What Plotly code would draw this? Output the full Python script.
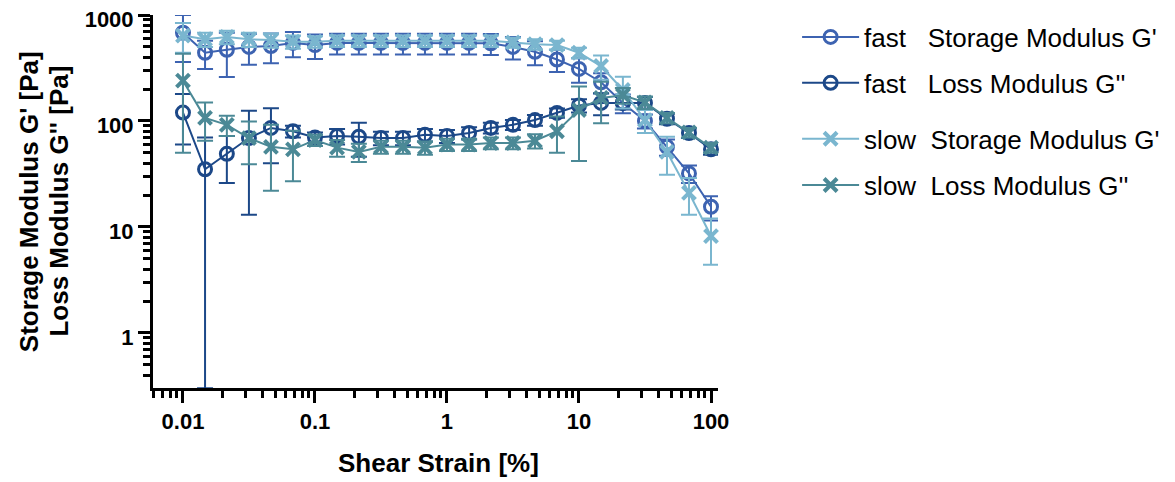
import plotly.graph_objects as go

# ---- data ----
strain = [0.01, 0.0147, 0.0215, 0.0316, 0.0464, 0.0681, 0.1, 0.147, 0.215, 0.316,
          0.464, 0.681, 1, 1.47, 2.15, 3.16, 4.64, 6.81, 10, 14.7, 21.5, 31.6,
          46.4, 68.1, 100]

fast_storage = [680, 440, 470, 500, 510, 545, 520, 545, 545, 545, 545, 545, 545,
                545, 540, 500, 450, 380, 310, 232, 148, 100, 57, 32, 15.5]
fast_storage_err = [320, 130, 210, 160, 160, 145, 135, 120, 120, 120, 120, 120, 120,
                    120, 120, 120, 115, 90, 80, 50, 30, 15, 10, 6, 4]

fast_loss = [120, 35, 49, 69, 86, 80, 70, 72, 71, 69, 69, 74, 72, 77, 86, 92, 102,
             119, 140, 148, 148, 148, 105, 77, 54]
fast_loss_err = [60, 34.7, 23, 56, 46, 10, 8, 12, 25, 10, 10, 10, 10, 10, 10, 10, 12,
                 12, 20, 35, 20, 20, 12, 8, 6]

slow_storage = [640, 590, 620, 590, 580, 560, 560, 570, 570, 570, 570, 570, 570,
                570, 570, 550, 530, 520, 440, 330, 196, 102, 51, 21, 8.2]
slow_storage_err = [200, 90, 90, 90, 90, 80, 70, 70, 70, 70, 70, 70, 70, 70, 70,
                    60, 60, 50, 50, 85, 65, 25, 20, 8, 3.8]

slow_loss = [240, 107, 92, 69, 57, 54, 66, 56, 51, 57, 57, 56, 60, 60, 62, 62, 65,
             80, 127, 165, 175, 150, 107, 78, 56]
slow_loss_err = [190, 42, 20, 30, 35, 27, 8, 10, 10, 8, 8, 8, 8, 8, 8, 8, 10, 30, 85,
                 70, 30, 20, 12, 8, 6]

x_tickvals = [0.01, 0.1, 1, 10, 100]
x_ticktext = ["0.01", "0.1", "1", "10", "100"]
y_tickvals = [1, 10, 100, 1000]
y_ticktext = ["1", "10", "100", "1000"]

names = ["fast\u00a0\u00a0\u00a0Storage Modulus G'",
         "fast\u00a0\u00a0\u00a0Loss Modulus G''",
         "slow\u00a0\u00a0Storage Modulus G'",
         "slow\u00a0\u00a0Loss Modulus G''"]

# ---- styling ----
C_FS = "#3d63b1"
C_FL = "#1c4888"
C_SS = "#7ab6cf"
C_SL = "#4b8996"
FONT = "Liberation Sans, Arial, sans-serif"

fig = go.Figure()


def add(name, y, err, color, symbol, legend, lw):
    fig.add_trace(go.Scatter(
        x=strain, y=y, mode="lines+markers", name=name, legend=legend,
        line=dict(color=color, width=2),
        marker=dict(symbol=symbol, size=13, color=color,
                    line=dict(color=color, width=lw)),
        error_y=dict(type="data", array=err, visible=True, color=color,
                     thickness=2, width=8),
        cliponaxis=False,
    ))


add(names[0], fast_storage, fast_storage_err, C_FS, "circle-open", "legend", 3)
add(names[1], fast_loss, fast_loss_err, C_FL, "circle-open", "legend2", 3)
add(names[2], slow_storage, slow_storage_err, C_SS, "x-thin", "legend3", 4)
add(names[3], slow_loss, slow_loss_err, C_SL, "x-thin", "legend4", 4)

minor_x = [m * 10 ** e for e in range(-3, 3) for m in range(2, 10)]
minor_y = [m * 10 ** e for e in range(-1, 3) for m in range(2, 10)]

axis_common = dict(
    type="log", showline=True, linecolor="black", linewidth=3,
    ticks="outside", ticklen=12, tickwidth=3, tickcolor="black",
    showgrid=False, zeroline=False, mirror=False, automargin=False,
    ticklabeloverflow="allow",
    tickfont=dict(family=FONT, size=22, color="black", weight="bold"),
)

fig.update_xaxes(**axis_common, range=[-2.227, 2.053], tickmode="array",
                 tickvals=x_tickvals, ticktext=x_ticktext,
                 minor=dict(tickmode="array", tickvals=minor_x, ticks="outside",
                            ticklen=7, tickwidth=2.5, tickcolor="black",
                            showgrid=False))
fig.update_yaxes(**axis_common, range=[-0.52, 3.0], tickmode="array",
                 tickvals=y_tickvals, ticktext=y_ticktext, ticklabelshift=4,
                 minor=dict(tickmode="array", tickvals=minor_y, ticks="outside",
                            ticklen=7, tickwidth=2.5, tickcolor="black",
                            showgrid=False))

leg_y = [0.941, 0.818, 0.668, 0.544]
leg_common = dict(x=1.140, xanchor="left", yanchor="middle", bgcolor="rgba(0,0,0,0)",
                  borderwidth=0, itemwidth=57,
                  font=dict(family=FONT, size=26, color="black"))

# the page body has an 8px margin, so the figure is 8px smaller and offsets reduced
fig.update_layout(
    width=1167, height=474,
    margin=dict(l=145, r=457, t=7, b=94, autoexpand=False),
    paper_bgcolor="white", plot_bgcolor="white",
    showlegend=True,
    legend=dict(**leg_common, y=leg_y[0]),
    legend2=dict(**leg_common, y=leg_y[1]),
    legend3=dict(**leg_common, y=leg_y[2]),
    legend4=dict(**leg_common, y=leg_y[3]),
    annotations=[
        dict(text="Storage Modulus G' [Pa]", x=-0.220, y=0.5, xref="paper", yref="paper",
             textangle=-90, showarrow=False, xanchor="center", yanchor="middle",
             font=dict(family=FONT, size=26, color="black", weight="bold")),
        dict(text="Loss Modulus G'' [Pa]", x=-0.168, y=0.5, xref="paper", yref="paper",
             textangle=-90, showarrow=False, xanchor="center", yanchor="middle",
             font=dict(family=FONT, size=26, color="black", weight="bold")),
        dict(text="Shear Strain [%]", x=0.505, y=-0.201, xref="paper", yref="paper",
             showarrow=False, xanchor="center", yanchor="middle",
             font=dict(family=FONT, size=26, color="black", weight="bold")),
    ],
)

fig.write_html("out.html")
